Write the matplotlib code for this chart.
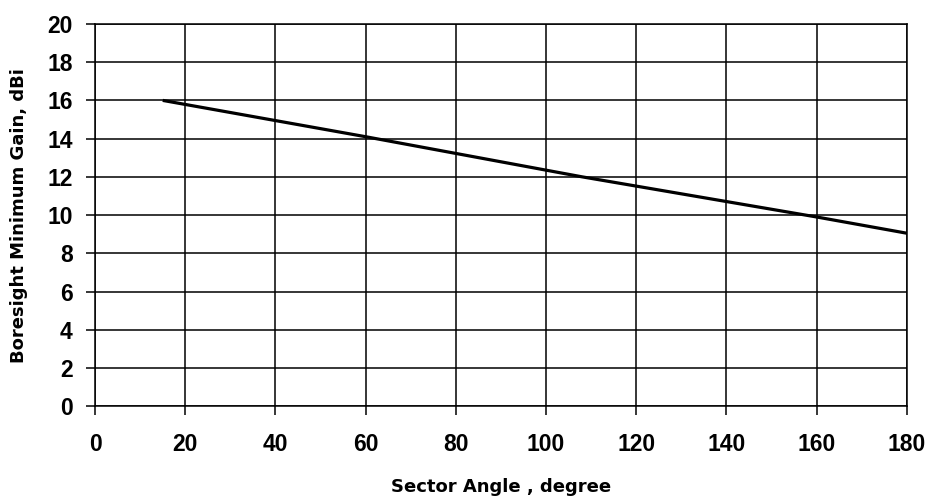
import matplotlib
matplotlib.use("Agg")
import matplotlib.pyplot as plt

sector_angle = [15, 60, 108, 160, 180]
gain_dbi = [16.0, 14.1, 12.0, 9.9, 9.05]
x_ticks = [0, 20, 40, 60, 80, 100, 120, 140, 160, 180]
y_ticks = [0, 2, 4, 6, 8, 10, 12, 14, 16, 18, 20]

plt.rcParams['font.family'] = ['Liberation Sans', 'DejaVu Sans']
fig = plt.figure(figsize=(9.32, 4.99), dpi=100)
ax = fig.add_axes([0.102, 0.186, 0.871, 0.766])
ax.plot(sector_angle, gain_dbi, color='black', linewidth=2.3, solid_capstyle='butt', zorder=3)
ax.set_xlim(0, 180)
ax.set_ylim(0, 20)
ax.set_xticks(x_ticks)
ax.set_yticks(y_ticks)
ax.grid(True, color='black', linewidth=1.1)
for s in ax.spines.values():
    s.set_linewidth(1.1)
ax.tick_params(direction='out', length=6.5, width=1.1, labelsize=16.5)
ax.tick_params(axis='x', pad=13)
ax.tick_params(axis='y', pad=9.5)
for lab in ax.get_xticklabels() + ax.get_yticklabels():
    lab.set_fontweight('bold')
ax.set_xlabel('Sector Angle , degree', fontsize=13, fontweight='bold', family=['DejaVu Sans'])
ax.set_ylabel('Boresight Minimum Gain, dBi', fontsize=13, fontweight='bold', family=['DejaVu Sans'])
ax.xaxis.label.set_va('center')
ax.yaxis.label.set_va('center')
ax.xaxis.set_label_coords(0.5, -0.212)
ax.yaxis.set_label_coords(-0.094, 0.5)
fig.savefig('out.png', dpi=100)
